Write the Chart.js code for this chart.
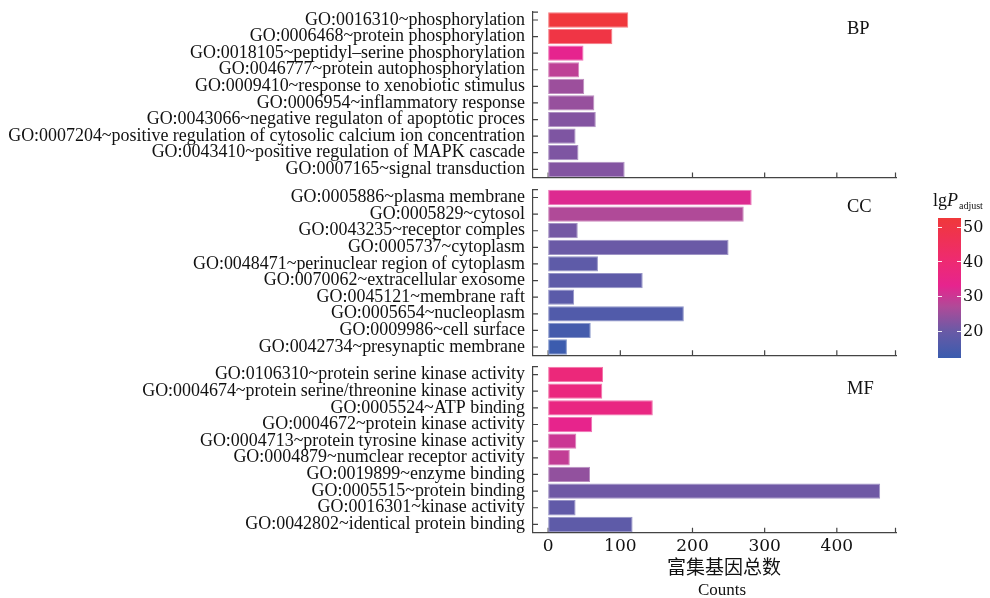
<!DOCTYPE html>
<html><head><meta charset="utf-8">
<script src="https://cdn.jsdelivr.net/npm/chart.js@4.4.1/dist/chart.umd.min.js"></script>
<style>
html,body{margin:0;padding:0;background:#fff;}
#wrap{position:relative;width:990px;height:598px;overflow:hidden;}
#wrap canvas{position:absolute;left:0;top:0;}
</style></head><body>
<div id="wrap">
<canvas id="c1" width="990" height="598"></canvas>
<canvas id="c2" width="990" height="598"></canvas>
<canvas id="c3" width="990" height="598"></canvas>
</div>
<script>
// ---------- data ----------
const bpLabels = [
  "GO:0016310~phosphorylation",
  "GO:0006468~protein phosphorylation",
  "GO:0018105~peptidyl\u2013serine phosphorylation",
  "GO:0046777~protein autophosphorylation",
  "GO:0009410~response to xenobiotic stimulus",
  "GO:0006954~inflammatory response",
  "GO:0043066~negative regulaton of apoptotic proces",
  "GO:0007204~positive regulation of cytosolic calcium ion concentration",
  "GO:0043410~positive regulation of MAPK cascade",
  "GO:0007165~signal transduction"
];
const bpCounts = [111, 89, 49, 43, 50, 64, 66, 38, 42, 106];
const bpLgP = [52, 50, 33, 28.5, 25, 24.5, 22.5, 22, 22, 22.5];

const ccLabels = [
  "GO:0005886~plasma membrane",
  "GO:0005829~cytosol",
  "GO:0043235~receptor comples",
  "GO:0005737~cytoplasm",
  "GO:0048471~perinuclear region of cytoplasm",
  "GO:0070062~extracellular exosome",
  "GO:0045121~membrane raft",
  "GO:0005654~nucleoplasm",
  "GO:0009986~cell surface",
  "GO:0042734~presynaptic membrane"
];
const ccCounts = [282, 271, 41, 250, 69, 131, 36, 188, 59, 26];
const ccLgP = [32, 27, 21, 20, 18, 18, 17.5, 16, 14, 12.5];

const mfLabels = [
  "GO:0106310~protein serine kinase activity",
  "GO:0004674~protein serine/threonine kinase activity",
  "GO:0005524~ATP binding",
  "GO:0004672~protein kinase activity",
  "GO:0004713~protein tyrosine kinase activity",
  "GO:0004879~numclear receptor activity",
  "GO:0019899~enzyme binding",
  "GO:0005515~protein binding",
  "GO:0016301~kinase activity",
  "GO:0042802~identical protein binding"
];
const mfCounts = [76, 75, 145, 61, 39, 30, 58, 460, 38, 117];
const mfLgP = [38, 37, 36, 33.5, 30, 29, 24, 20.5, 18.5, 18];

const xTicks = [0, 100, 200, 300, 400];
const cbTicks = [20, 30, 40, 50];
const cbRange = [12.2, 52.5];
const xTitleCN = "富集基因总数";
const xTitleEN = "Counts";

// ---------- styling ----------
const SERIF = "'Liberation Serif', serif";
const NUMF = "'DejaVu Serif', serif";
const stops = [
  [12.2, [58, 92, 174]],
  [20, [106, 90, 166]],
  [27, [176, 74, 152]],
  [33, [230, 36, 142]],
  [40, [238, 42, 114]],
  [52.5, [240, 56, 58]]
];
function rgbFor(v) {
  if (v <= stops[0][0]) return stops[0][1];
  for (let i = 1; i < stops.length; i++) {
    if (v <= stops[i][0]) {
      const a = stops[i-1], b = stops[i];
      const t = (v - a[0]) / (b[0] - a[0]);
      return a[1].map((c, k) => Math.round(c + (b[1][k] - c) * t));
    }
  }
  return stops[stops.length-1][1];
}
const col = v => { const c = rgbFor(v); return `rgb(${c[0]},${c[1]},${c[2]})`; };
const colLight = v => { const c = rgbFor(v).map(x => Math.round(x + (255 - x) * 0.35)); return `rgb(${c[0]},${c[1]},${c[2]})`; };

// auto-size label font so that the longest label spans ~517px
const mctx = document.createElement('canvas').getContext('2d');
mctx.font = "100px " + SERIF;
const longest = [...bpLabels, ...ccLabels, ...mfLabels].reduce((m, s) => Math.max(m, mctx.measureText(s).width), 0);
const labelSize = Math.min(18, 100 * 517 / longest);

const AXIS = '#444';
const innerTicks = {
  id: 'innerTicks',
  beforeDatasetsDraw(chart) {
    const ctx = chart.ctx, ca = chart.chartArea, ys = chart.scales.y, xs = chart.scales.x;
    ctx.save();
    ctx.strokeStyle = AXIS; ctx.lineWidth = 1.2;
    ctx.beginPath();
    chart.data.labels.forEach((l, i) => {
      const y = ys.getPixelForValue(i);
      ctx.moveTo(ca.left, y); ctx.lineTo(ca.left + 5, y);
    });
    ctx.moveTo(ca.left, ca.top + 0.5); ctx.lineTo(ca.left + 5, ca.top + 0.5);
    xTicks.forEach(v => {
      const x = xs.getPixelForValue(v);
      ctx.moveTo(x, ca.bottom); ctx.lineTo(x, ca.bottom - 5);
    });
    ctx.moveTo(ca.right - 0.5, ca.bottom); ctx.lineTo(ca.right - 0.5, ca.bottom - 5);
    ctx.stroke();
    ctx.restore();
  },
  afterDraw(chart, args, opts) {
    const ctx = chart.ctx;
    ctx.save();
    ctx.fillStyle = '#111';
    ctx.font = "18.5px " + SERIF;
    ctx.textBaseline = 'alphabetic';
    ctx.textAlign = 'left';
    ctx.fillText(opts.tag, 847, opts.tagY);
    if (opts.colorbar) {
      const x0 = 938, x1 = 961, yT = 218, yB = 358;
      const vp = v => yB - (v - cbRange[0]) / (cbRange[1] - cbRange[0]) * (yB - yT);
      const g = ctx.createLinearGradient(0, yB, 0, yT);
      stops.forEach(s => g.addColorStop((s[0] - cbRange[0]) / (cbRange[1] - cbRange[0]), `rgb(${s[1].join(',')})`));
      ctx.fillStyle = g;
      ctx.fillRect(x0, yT, x1 - x0, yB - yT);
      ctx.strokeStyle = 'rgba(255,255,255,0.9)'; ctx.lineWidth = 1;
      ctx.beginPath();
      cbTicks.forEach(v => {
        const y = Math.round(vp(v)) + 0.5;
        ctx.moveTo(x0, y); ctx.lineTo(x0 + 4, y);
        ctx.moveTo(x1 - 4, y); ctx.lineTo(x1, y);
      });
      ctx.stroke();
      ctx.fillStyle = '#111';
      ctx.font = "16px " + NUMF;
      ctx.textBaseline = 'middle';
      cbTicks.forEach(v => ctx.fillText(String(v), 963, vp(v) + 1));
      ctx.textBaseline = 'alphabetic';
      ctx.font = "18px " + SERIF;
      ctx.fillText("lg", 933, 206);
      let w = ctx.measureText("lg").width;
      ctx.font = "italic 18px " + SERIF;
      ctx.fillText("P", 933 + w, 206);
      w += ctx.measureText("P").width;
      ctx.font = "10px " + SERIF;
      ctx.fillText("adjust", 933 + w + 1, 209);
    }
    if (opts.xtitle) {
      ctx.textAlign = 'center';
      ctx.textBaseline = 'middle';
      ctx.fillStyle = '#111';
      ctx.font = "19px 'Noto Sans CJK SC', sans-serif";
      ctx.fillText(xTitleCN, 724, 567);
      ctx.font = "17px " + SERIF;
      ctx.fillText(xTitleEN, 722, 591);
    }
    ctx.restore();
  }
};

function makePanel(id, labels, counts, lgp, tag, top, bottom, tagY, isLast) {
  const xh = isLast ? 598 - bottom : 0;
  const padBottom = isLast ? 0 : 598 - bottom;
  return new Chart(document.getElementById(id), {
    type: 'bar',
    data: {
      labels: labels,
      datasets: [{
        data: counts,
        backgroundColor: lgp.map(col),
        borderColor: lgp.map(colLight),
        borderWidth: 1,
        borderSkipped: false,
        categoryPercentage: 1.0,
        barPercentage: 0.92
      }]
    },
    options: {
      responsive: false,
      animation: false,
      indexAxis: 'y',
      layout: { padding: { left: 0, right: 94, top: top, bottom: padBottom } },
      plugins: {
        legend: { display: false },
        tooltip: { enabled: false },
        innerTicks: { tag: tag, tagY: tagY, colorbar: id === 'c2', xtitle: isLast }
      },
      scales: {
        x: {
          type: 'linear', min: -21, max: 482, position: 'bottom',
          grid: { display: false, drawTicks: false },
          border: { display: true, color: AXIS, width: 1.2 },
          ticks: { display: isLast, color: '#111', padding: 4, font: { family: NUMF, size: 17 } },
          afterBuildTicks: s => { s.ticks = xTicks.map(v => ({ value: v })); },
          afterFit: s => { s.height = xh; s.paddingLeft = 0; s.paddingRight = 0; }
        },
        y: {
          type: 'category',
          grid: { display: false, drawTicks: false },
          border: { display: true, color: AXIS, width: 1.2 },
          ticks: { color: '#111', padding: 8, autoSkip: false, font: { family: SERIF, size: labelSize } },
          afterFit: s => { s.width = 533; s.paddingTop = 0; s.paddingBottom = 0; }
        }
      }
    },
    plugins: [innerTicks]
  });
}

makePanel('c1', bpLabels, bpCounts, bpLgP, 'BP', 11.7, 177.6, 34.3, false);
makePanel('c2', ccLabels, ccCounts, ccLgP, 'CC', 189.2, 355.3, 211.7, false);
makePanel('c3', mfLabels, mfCounts, mfLgP, 'MF', 366.2, 532.7, 394.3, true);
</script>
</body></html>
